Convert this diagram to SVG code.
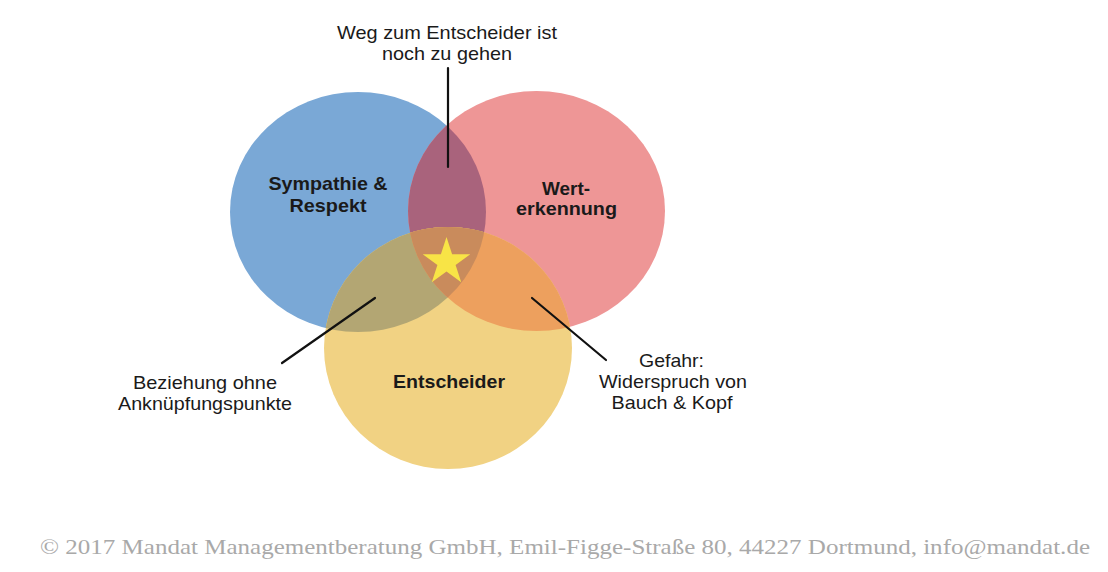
<svg xmlns="http://www.w3.org/2000/svg" width="1108" height="572" viewBox="0 0 1108 572">
  <style>
    .lbl { font-family: "Liberation Sans", Arial, Helvetica, sans-serif; font-size: 19px; fill: #1a1a1a; text-anchor: middle; }
    .bold { font-weight: bold; }
    .conn { stroke: #111; stroke-width: 2.2; fill: none; stroke-linecap: round; }
    .foot { font-family: "Liberation Serif", "Times New Roman", serif; font-size: 22px; fill: #a9a9a9; }
  </style>
  <defs>
    <clipPath id="cB"><ellipse cx="358" cy="212" rx="128" ry="120"/></clipPath>
    <clipPath id="cR"><ellipse cx="536.5" cy="211" rx="128.5" ry="120"/></clipPath>
    <clipPath id="cY"><ellipse cx="448" cy="348" rx="124" ry="121"/></clipPath>
  </defs>
  <rect width="1108" height="572" fill="#ffffff"/>

  <g id="sympathie">
    <ellipse cx="358" cy="212" rx="128" ry="120" fill="#7aa8d6"/>
    <text class="lbl bold" x="328" y="190" textLength="119" lengthAdjust="spacingAndGlyphs">Sympathie &amp;</text>
    <text class="lbl bold" x="328" y="212" textLength="77" lengthAdjust="spacingAndGlyphs">Respekt</text>
  </g>

  <g id="werterkennung">
    <ellipse cx="536.5" cy="211" rx="128.5" ry="120" fill="#ee9696"/>
    <text class="lbl bold" x="566" y="195" textLength="48" lengthAdjust="spacingAndGlyphs">Wert-</text>
    <text class="lbl bold" x="566.5" y="215" textLength="101" lengthAdjust="spacingAndGlyphs">erkennung</text>
  </g>

  <g id="overlap-blue-red">
    <ellipse cx="536.5" cy="211" rx="128.5" ry="120" fill="#a9637c" clip-path="url(#cB)"/>
  </g>

  <g id="entscheider">
    <ellipse cx="448" cy="348" rx="124" ry="121" fill="#f1d283"/>
    <ellipse cx="448" cy="348" rx="124" ry="121" fill="#b3a673" clip-path="url(#cB)"/>
    <ellipse cx="448" cy="348" rx="124" ry="121" fill="#eda05e" clip-path="url(#cR)"/>
    <g clip-path="url(#cR)">
      <ellipse cx="448" cy="348" rx="124" ry="121" fill="#c98b5c" clip-path="url(#cB)"/>
    </g>
    <text class="lbl bold" x="449" y="388" textLength="112" lengthAdjust="spacingAndGlyphs">Entscheider</text>
  </g>

  <g id="star">
    <polygon points="446.5,237 452.1,254.3 470.3,254.3 455.6,265 461.2,282.2 446.5,271.6 431.8,282.2 437.4,265 422.7,254.3 440.9,254.3" fill="#f8e446"/>
  </g>

  <g id="connectors">
    <line class="conn" x1="448" y1="68" x2="448" y2="167"/>
    <line class="conn" x1="375" y1="298" x2="282" y2="363"/>
    <line class="conn" x1="532" y1="298" x2="606" y2="360"/>
  </g>

  <g id="label-top">
    <text class="lbl" x="447" y="39" textLength="220" lengthAdjust="spacingAndGlyphs">Weg zum Entscheider ist</text>
    <text class="lbl" x="447" y="60" textLength="130" lengthAdjust="spacingAndGlyphs">noch zu gehen</text>
  </g>

  <g id="label-left">
    <text class="lbl" x="205" y="389" textLength="144" lengthAdjust="spacingAndGlyphs">Beziehung ohne</text>
    <text class="lbl" x="205" y="410" textLength="174" lengthAdjust="spacingAndGlyphs">Anknüpfungspunkte</text>
  </g>

  <g id="label-right">
    <text class="lbl" x="671.5" y="367" textLength="65" lengthAdjust="spacingAndGlyphs">Gefahr:</text>
    <text class="lbl" x="673" y="388" textLength="148" lengthAdjust="spacingAndGlyphs">Widerspruch von</text>
    <text class="lbl" x="672" y="409" textLength="121" lengthAdjust="spacingAndGlyphs">Bauch &amp; Kopf</text>
  </g>

  <g id="footer">
    <text class="foot" x="40" y="554" textLength="1050" lengthAdjust="spacingAndGlyphs">© 2017 Mandat Managementberatung GmbH, Emil-Figge-Straße 80, 44227 Dortmund, info@mandat.de</text>
  </g>
</svg>
